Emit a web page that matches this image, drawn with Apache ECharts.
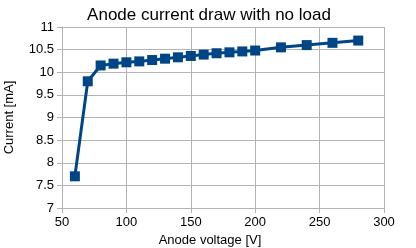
<!DOCTYPE html>
<html><head><meta charset="utf-8">
<script src="https://cdn.jsdelivr.net/npm/echarts@6/dist/echarts.min.js"></script>
<style>html,body{margin:0;padding:0;background:#fff}#c{width:416px;height:248px}</style>
</head><body><div id="c"></div>
<script>
const voltages = [60, 70, 80, 90, 100, 110, 120, 130, 140, 150, 160, 170, 180, 190, 200, 220, 240, 260, 280];
const currents = [7.7, 9.8, 10.15, 10.19, 10.22, 10.24, 10.27, 10.3, 10.33, 10.36, 10.39, 10.42, 10.44, 10.46, 10.48, 10.55, 10.6, 10.65, 10.7];
const titleText = 'Anode current draw with no load';
const xName = 'Anode voltage [V]';
const yName = 'Current [mA]';

const chart = echarts.init(document.getElementById('c'), null, {renderer: 'canvas'});
const font = 'Liberation Sans';
chart.setOption({
  animation: false,
  backgroundColor: '#fff',
  title: {text: titleText, left: 204, top: 2, textAlign: 'center',
    textStyle: {fontFamily: font, fontSize: 17, fontWeight: 'normal', color: '#000'}},
  grid: {left: 62, right: 32, top: 27, bottom: 40, containLabel: false, outerBoundsMode: 'none'},
  xAxis: {type: 'value', min: 50, max: 300, interval: 50,
    name: xName, nameLocation: 'middle', nameGap: 22,
    nameTextStyle: {fontFamily: font, fontSize: 13, color: '#000', padding: [0, 26, 0, 0]},
    axisLine: {show: true, lineStyle: {color: '#b3b3b3', width: 1}},
    axisTick: {show: true, length: 5, lineStyle: {color: '#b3b3b3'}},
    axisLabel: {fontFamily: font, fontSize: 13, color: '#000', margin: 8},
    splitLine: {show: true, lineStyle: {color: '#b3b3b3', width: 1}}},
  yAxis: {type: 'value', min: 7, max: 11, interval: 0.5,
    name: yName, nameLocation: 'middle', nameGap: 46, nameRotate: 90,
    nameTextStyle: {fontFamily: font, fontSize: 13, color: '#000'},
    axisLine: {show: true, lineStyle: {color: '#b3b3b3', width: 1}},
    axisTick: {show: true, length: 5, lineStyle: {color: '#b3b3b3'}},
    axisLabel: {fontFamily: font, fontSize: 13, color: '#000', margin: 8},
    splitLine: {show: true, lineStyle: {color: '#b3b3b3', width: 1}}},
  series: [{type: 'line', data: voltages.map((v, i) => [v, currents[i]]),
    symbol: 'rect', symbolSize: 10, showAllSymbol: true,
    lineStyle: {color: '#004586', width: 3},
    itemStyle: {color: '#004586'}}]
});
</script></body></html>
